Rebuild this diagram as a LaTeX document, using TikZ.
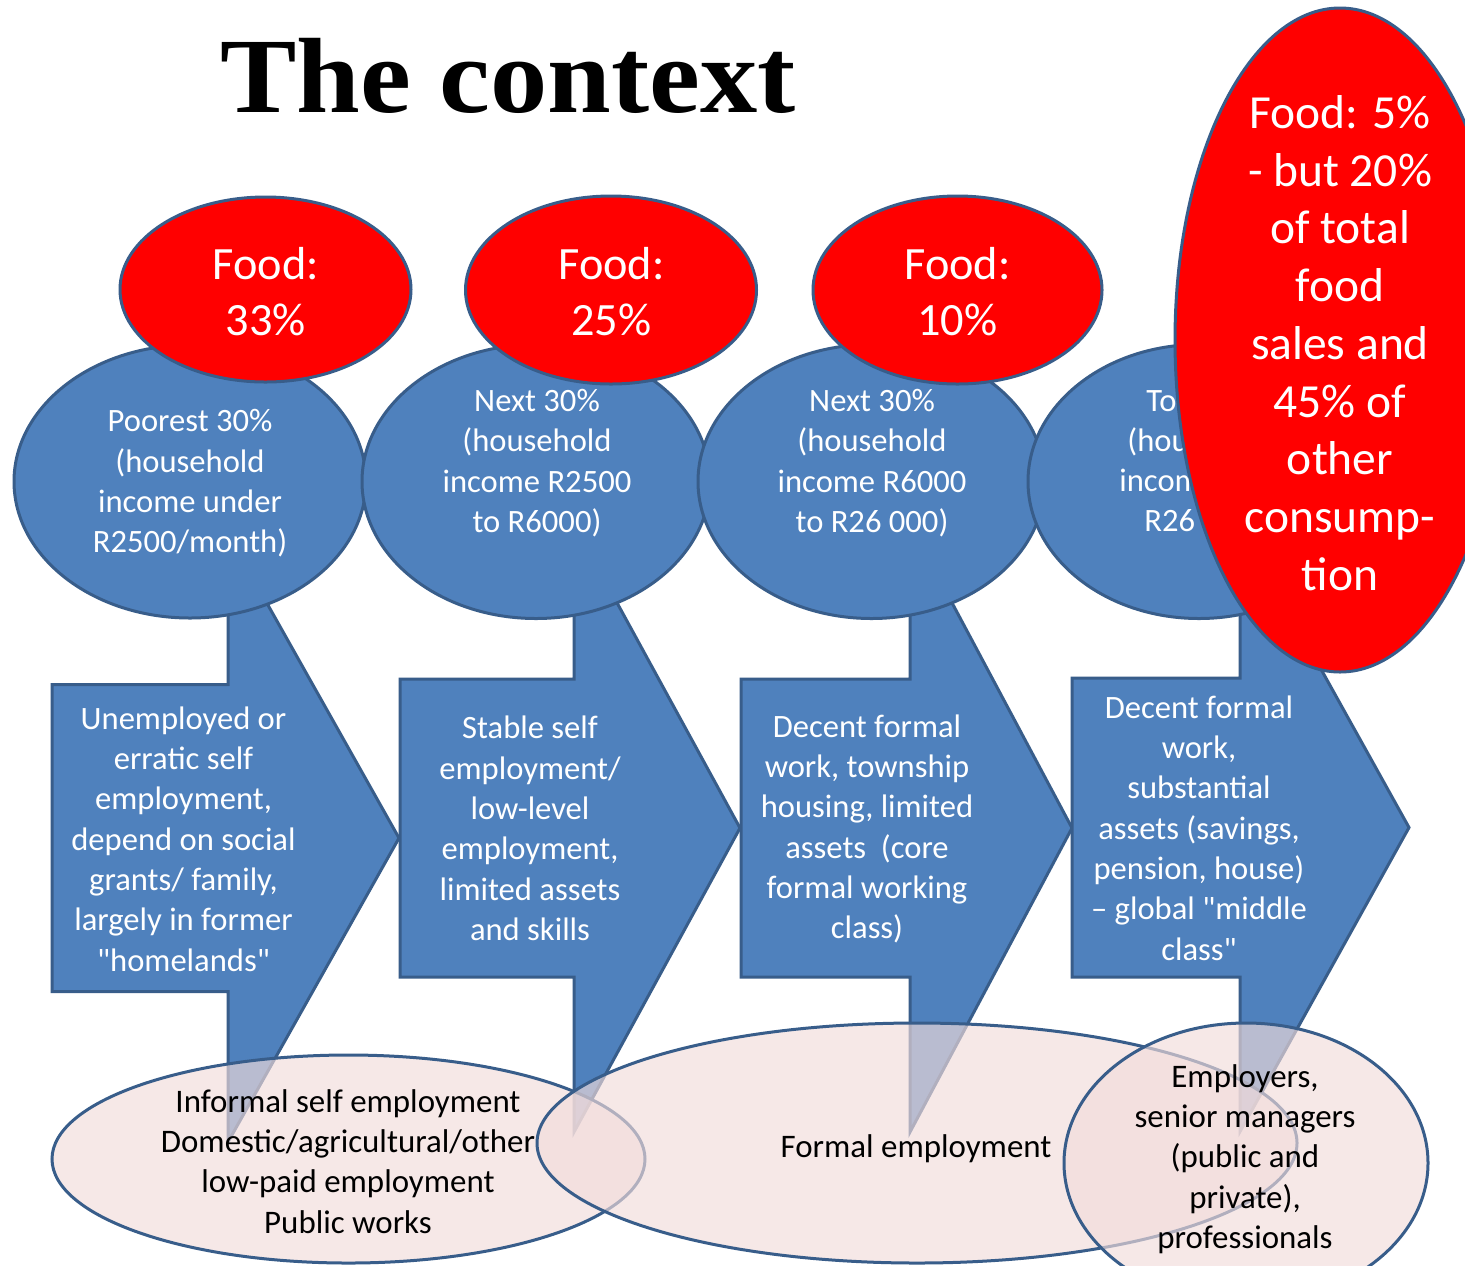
\documentclass[tikz,border=0pt]{standalone}
\usepackage{graphicx}
\usepackage{fontspec}
\setmainfont{Carlito}
\newfontfamily\titlefont{Liberation Serif}
\usetikzlibrary{shapes.geometric}

\definecolor{bandblue}{HTML}{4F81BD}
\definecolor{edgeblue}{HTML}{385D8A}
\definecolor{foodred}{HTML}{FF0000}
\definecolor{jobpink}{HTML}{F2DCDB}

\tikzset{
  groupoval/.style={ellipse, draw=edgeblue, line width=1.5pt, fill=bandblue, inner sep=0pt},
  foodoval/.style={ellipse, draw=edgeblue, line width=1.5pt, fill=foodred, inner sep=0pt},
  joboval/.style={ellipse, draw=edgeblue, line width=1.5pt, fill=jobpink, fill opacity=0.65, inner sep=0pt},
  bandarrow/.style={draw=edgeblue, line width=1.5pt, fill=bandblue, line join=miter},
  whitetext/.style={text=white, align=center, inner sep=0pt, font=\fontsize{16.3}{20.15}\selectfont},
  partialtext/.style={text=white, anchor=base west, inner sep=0pt, font=\fontsize{16.3}{20.15}\selectfont},
  foodtext/.style={text=white, align=center, inner sep=0pt, font=\fontsize{23.15}{28}\selectfont},
  bigfoodtext/.style={text=white, align=center, inner sep=0pt, font=\fontsize{23.75}{28.85}\selectfont},
  jobtext/.style={text=black, align=center, inner sep=0pt, font=\fontsize{16.45}{20.15}\selectfont},
}

% straight double quote
\newcommand\dq{\textquotedbl}

% right-pointing block arrow: left edge, stem x, tip x, centre y, half body, half head
\newcommand\arrowband[6]{%
  \draw[bandarrow] (#1,#4-#5) -- (#2,#4-#5) -- (#2,#4-#6) -- (#3,#4)
    -- (#2,#4+#6) -- (#2,#4+#5) -- (#1,#4+#5) -- cycle;}

\begin{document}
\begin{tikzpicture}[x=0.5pt,y=-0.5pt]
\useasboundingbox (0,0) rectangle (1465,1265);
\clip (0,0) rectangle (1465,1265);
\fill[white] (0,0) rectangle (1465,1265);

% block arrows for the four employment bands
\arrowband{52}{228}{399}{838}{153.5}{304}
\arrowband{400}{574}{740}{828}{149}{304}
\arrowband{741}{910}{1072}{828}{149}{304}
\arrowband{1072}{1240}{1409}{827.5}{149.5}{304}

\node[whitetext] (work1) at (183.5,839) {Unemployed or\\erratic self\\employment,\\depend on social\\grants/ family,\\largely in former\\\dq homelands\dq};
\node[whitetext] (work2) at (530,828.5) {Stable self\\employment/\\low-level\\employment,\\limited assets\\and skills};
\node[whitetext] (work3) at (867,829) {Decent formal\\work, township\\housing, limited\\assets~ (core\\formal working\\class)};
\node[whitetext] (work4) at (1199,828) {Decent formal\\work,\\substantial\\assets (savings,\\pension, house)\\– global \dq middle\\class\dq};

% income groups
\node[groupoval, minimum width=176pt, minimum height=136.5pt] (grp1) at (190,481.5) {};
\node[whitetext] (grp1text) at (190,483.5) {Poorest 30\%\\(household\\income under\\R2500/month)};
\node[groupoval, minimum width=174pt, minimum height=137pt] (grp2) at (536,481.5) {};
\node[whitetext] (grp2text) at (537,463) {Next 30\%\\(household\\income R2500\\to R6000)};
\node[groupoval, minimum width=173.5pt, minimum height=137pt] (grp3) at (871.5,481.5) {};
\node[whitetext] (grp3text) at (872,463) {Next 30\%\\(household\\income R6000\\to R26 000)};
\node[groupoval, minimum width=171pt, minimum height=137pt] (grp4) at (1199,481.5) {};
\node[partialtext] (grp4a) at (1146,411) {To};
\node[partialtext] (grp4b) at (1127,451) {(hou};
\node[partialtext] (grp4c) at (1119,491) {incom};
\node[partialtext] (grp4d) at (1144,531) {R26};

% share of spending on food
\node[foodoval, minimum width=145.5pt, minimum height=92.5pt] (food1) at (265.5,289.5) {};
\node[foodtext] (food1text) at (266,292) {Food:\\33\%};
\node[foodoval, minimum width=145.5pt, minimum height=94pt] (food2) at (611,290) {};
\node[foodtext] (food2text) at (611.5,292) {Food:\\25\%};
\node[foodoval, minimum width=144.5pt, minimum height=94pt] (food3) at (957.5,290) {};
\node[foodtext] (food3text) at (957.5,292) {Food:\\10\%};
\node[foodoval, minimum width=165pt, minimum height=332pt] (food4) at (1340,340) {};
\node[bigfoodtext] (food4text) at (1340,343) {Food: 5\%\\- but 20\%\\of total\\food\\sales and\\45\% of\\other\\consump-\\tion};

% kinds of employment
\node[joboval, minimum width=296.5pt, minimum height=104pt] (jobA) at (348.5,1159) {};
\node[jobtext] (jobAtext) at (348,1161.5) {Informal self employment\\Domestic/agricultural/other\\low-paid employment\\Public works};
\node[joboval, minimum width=380pt, minimum height=120pt] (jobB) at (917,1143) {};
\node[jobtext] (jobBtext) at (916,1149) {Formal employment};
\node[joboval, minimum width=182pt, minimum height=140pt] (jobC) at (1246,1163) {};
\node[jobtext] (jobCtext) at (1245,1159) {Employers,\\senior managers\\(public and\\private),\\professionals};

% heading
\node[anchor=base, inner sep=0pt, font=\titlefont\bfseries\fontsize{53.5}{60}\selectfont] (title) at (508,112) {\scalebox{1.07}[1]{The context}};
\end{tikzpicture}
\end{document}
